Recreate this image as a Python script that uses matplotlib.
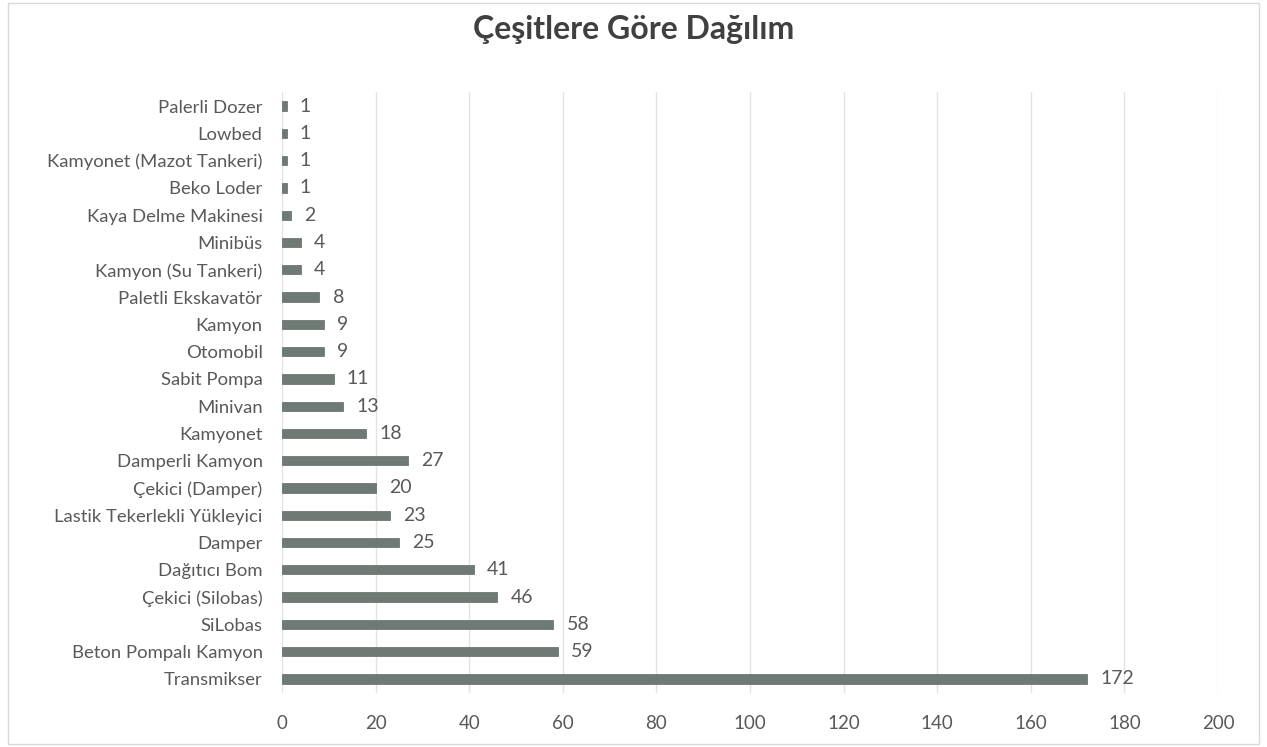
import matplotlib

matplotlib.use("Agg")
import matplotlib.pyplot as plt
from matplotlib.patches import Rectangle

plt.rcParams["font.family"] = ["Lato", "DejaVu Sans"]

# top to bottom as shown in the chart
categories = [
    "Palerli Dozer", "Lowbed", "Kamyonet (Mazot Tankeri)", "Beko Loder",
    "Kaya Delme Makinesi", "Minibüs", "Kamyon (Su Tankeri)", "Paletli Ekskavatör",
    "Kamyon", "Otomobil", "Sabit Pompa", "Minivan", "Kamyonet", "Damperli Kamyon",
    "Çekici (Damper)", "Lastik Tekerlekli Yükleyici", "Damper", "Dağıtıcı Bom",
    "Çekici (Silobas)", "SiLobas", "Beton Pompalı Kamyon", "Transmikser",
]
counts = [1, 1, 1, 1, 2, 4, 4, 8, 9, 9, 11, 13, 18, 27, 20, 23, 25, 41, 46, 58, 59, 172]
x_ticks = [0, 20, 40, 60, 80, 100, 120, 140, 160, 180, 200]

TEXT = "#595959"

fig = plt.figure(figsize=(12.67, 7.47), dpi=100)
ax = fig.add_axes([0.2226, 0.0728, 0.7387, 0.8035])

# chart border
fig.add_artist(Rectangle((0.006, 0.004), 0.988, 0.992, transform=fig.transFigure,
                         fill=False, edgecolor="#d9d9d9", linewidth=1))

y = list(range(len(categories)))
ax.barh(y, counts, height=0.34, color="#6f7a75", edgecolor="#5f6a65", linewidth=0.5, zorder=3)
for yi, v in zip(y, counts):
    ax.text(v + 2.8, yi, str(v), va="center", ha="left", fontsize=14, color=TEXT)

ax.set_xlim(0, 200)
ax.set_ylim(len(categories) - 0.5, -0.5)
ax.set_yticks(y)
ax.set_yticklabels(categories, fontsize=13.3, color=TEXT)
ax.set_xticks(x_ticks)
ax.set_xticklabels([str(t) for t in x_ticks], fontsize=13.5, color=TEXT)
ax.tick_params(length=0)
ax.tick_params(axis="x", pad=16)
ax.tick_params(axis="y", pad=14)
ax.grid(axis="x", color="#e3e3e3", linewidth=1, zorder=0)
for s in ax.spines.values():
    s.set_visible(False)

fig.suptitle("Çeşitlere Göre Dağılım", y=0.98, fontsize=23, fontweight="bold", color="#404040")

fig.savefig("out.png", dpi=100)
